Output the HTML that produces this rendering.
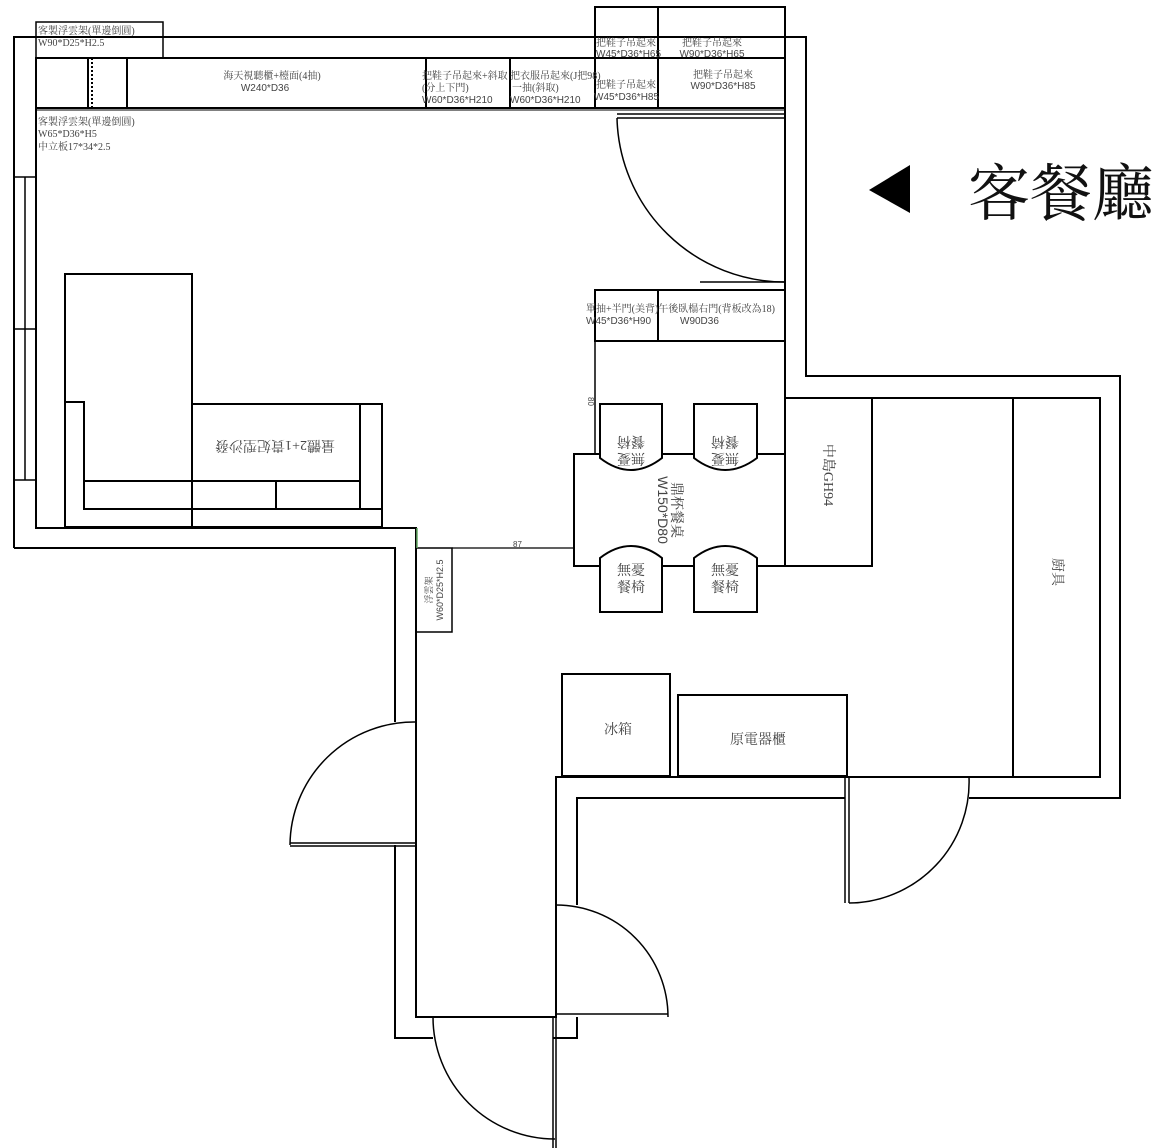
<!DOCTYPE html>
<html><head><meta charset="utf-8"><style>
html,body{margin:0;padding:0;background:#fff;}
svg{display:block;}
text{font-family:"Liberation Serif","Noto Serif CJK SC",serif;fill:#444;}
.s{font-family:"Liberation Sans","Noto Sans CJK SC",sans-serif;}
</style></head><body>
<svg width="1159" height="1148" viewBox="0 0 1159 1148" xmlns="http://www.w3.org/2000/svg">
<g fill="none" stroke="#000" stroke-width="2">
<polyline points="14,548 14,37 806,37 806,376 1120,376 1120,798 969,798"/>
<polyline points="845,798 577,798 577,905"/>
<polyline points="14,548 395,548 395,722"/>
<polyline points="395,845 395,1038 433,1038"/>
<polyline points="553,1038 577,1038 577,1017"/>
<polyline points="36,58 36,528 416,528 416,1017 556,1017 556,777 1100,777 1100,398 806,398"/>
<line x1="785" y1="108" x2="785" y2="398"/>
<line x1="25" y1="177" x2="25" y2="480" stroke-width="1.5"/>
<line x1="14" y1="177" x2="36" y2="177" stroke-width="1.5"/>
<line x1="14" y1="329" x2="36" y2="329" stroke-width="1.5"/>
<line x1="14" y1="480" x2="36" y2="480" stroke-width="1.5"/>
<rect x="36" y="58" width="749" height="50"/>
<line x1="36" y1="108" x2="785" y2="108" stroke-width="1"/>
<line x1="36" y1="110" x2="785" y2="110" stroke-width="1"/>
<line x1="88" y1="58" x2="88" y2="108"/>
<line x1="92" y1="58" x2="92" y2="108" stroke-dasharray="2,2"/>
<line x1="127" y1="58" x2="127" y2="108"/>
<line x1="426" y1="58" x2="426" y2="108"/>
<line x1="510" y1="58" x2="510" y2="108"/>
<line x1="595" y1="58" x2="595" y2="108"/>
<line x1="658" y1="58" x2="658" y2="108"/>
<rect x="36" y="22" width="127" height="36" stroke-width="1.5"/>
<rect x="595" y="7" width="190" height="51"/>
<line x1="658" y1="7" x2="658" y2="58"/>
<line x1="617" y1="114" x2="785" y2="114" stroke-width="1.5"/>
<line x1="617" y1="118" x2="785" y2="118" stroke-width="1.5"/>
<path d="M617,118 A168,168 0 0 0 785,282" stroke-width="1.5"/>
<line x1="700" y1="282" x2="785" y2="282" stroke-width="1.5"/>
<rect x="595" y="290" width="190" height="51"/>
<line x1="658" y1="290" x2="658" y2="341"/>
<line x1="595" y1="341" x2="595" y2="454" stroke-width="1.5"/>
<rect x="65" y="274" width="127" height="253"/>
<polyline points="65,402 84,402 84,509 382,509"/>
<line x1="84" y1="481" x2="360" y2="481"/>
<rect x="192" y="404" width="190" height="123"/>
<line x1="360" y1="404" x2="360" y2="509"/>
<line x1="276" y1="481" x2="276" y2="509"/>
<rect x="416" y="548" width="36" height="84" stroke-width="1.5"/>
<line x1="452" y1="548" x2="574" y2="548" stroke-width="1.2"/>
<line x1="417" y1="528" x2="417" y2="548" stroke="#6a6" stroke-width="1.5"/>
<rect x="574" y="454" width="211" height="112"/>
<rect x="785" y="398" width="87" height="168"/>
<rect x="1013" y="398" width="87" height="379"/>
<path d="M600,404 H662 V458 Q631,482 600,458 Z" fill="#fff"/>
<path d="M694,404 H757 V458 Q725,482 694,458 Z" fill="#fff"/>
<path d="M600,612 H662 V558 Q631,534 600,558 Z" fill="#fff"/>
<path d="M694,612 H757 V558 Q725,534 694,558 Z" fill="#fff"/>
<rect x="562" y="674" width="108" height="102"/>
<rect x="678" y="695" width="169" height="81"/>
<line x1="290" y1="843" x2="416" y2="843" stroke-width="1.5"/>
<line x1="290" y1="846" x2="416" y2="846" stroke-width="1.5"/>
<path d="M416,722 A124,124 0 0 0 290,845" stroke-width="1.5"/>
<line x1="556" y1="1014" x2="668" y2="1014" stroke-width="1.5"/>
<path d="M556,905 A112,112 0 0 1 668,1017" stroke-width="1.5"/>
<line x1="553" y1="1017" x2="553" y2="1148" stroke-width="1.5"/>
<line x1="556" y1="1017" x2="556" y2="1148" stroke-width="1.5"/>
<path d="M433,1017 A122,122 0 0 0 555,1139" stroke-width="1.5"/>
<line x1="845" y1="777" x2="845" y2="903" stroke-width="1.5"/>
<line x1="849" y1="777" x2="849" y2="903" stroke-width="1.5"/>
<path d="M969,777 A121,121 0 0 1 849,903" stroke-width="1.5"/>
</g>
<polygon points="869,190 910,165 910,213" fill="#000"/>
<text x="968" y="215" font-size="62" style="fill:#111;font-family:'Liberation Serif','Noto Serif CJK SC',serif">客餐廳</text>
<g font-size="10">
<text x="38" y="34">客製浮雲架(單邊倒圓)</text>
<text x="38" y="46">W90*D25*H2.5</text>
<text x="38" y="125">客製浮雲架(單邊倒圓)</text>
<text x="38" y="137">W65*D36*H5</text>
<text x="38" y="150">中立板17*34*2.5</text>
<text x="272" y="79" text-anchor="middle">海天視聽櫃+檯面(4抽)</text>
<text x="265" y="91" text-anchor="middle" class="s">W240*D36</text>
<text x="422" y="79">把鞋子吊起來+斜取</text>
<text x="422" y="91">(分上下門)</text>
<text x="422" y="103" class="s">W60*D36*H210</text>
<text x="510" y="79">把衣服吊起來(J把98)</text>
<text x="512" y="91">一抽(斜取)</text>
<text x="510" y="103" class="s">W60*D36*H210</text>
<text x="596" y="46">把鞋子吊起來</text>
<text x="596" y="57" class="s">W45*D36*H65</text>
<text x="712" y="46" text-anchor="middle">把鞋子吊起來</text>
<text x="712" y="57" text-anchor="middle" class="s">W90*D36*H65</text>
<text x="596" y="88">把鞋子吊起來</text>
<text x="594" y="100" class="s">W45*D36*H85</text>
<text x="723" y="78" text-anchor="middle">把鞋子吊起來</text>
<text x="723" y="89" text-anchor="middle" class="s">W90*D36*H85</text>
<text x="586" y="312">單抽+半門(美背)午後臥榻右門(背板改為18)</text>
<text x="586" y="324" class="s">W45*D36*H90</text>
<text x="680" y="324" class="s">W90D36</text>
<text x="513" y="547" class="s" font-size="8">87</text>
</g>
<text transform="translate(275,441) rotate(180)" font-size="14" text-anchor="middle">量體2+1貴妃型沙發</text>
<text transform="translate(588,397) rotate(90)" font-size="8" class="s">80</text>
<g font-size="14" text-anchor="middle">
<text transform="translate(631,437) rotate(180)">餐椅</text>
<text transform="translate(631,454) rotate(180)">無憂</text>
<text transform="translate(725,437) rotate(180)">餐椅</text>
<text transform="translate(725,454) rotate(180)">無憂</text>
<text x="631" y="575">無憂</text>
<text x="631" y="592">餐椅</text>
<text x="725" y="575">無憂</text>
<text x="725" y="592">餐椅</text>
<text x="618" y="734">冰箱</text>
<text x="758" y="744">原電器櫃</text>
</g>
<text transform="translate(672,510) rotate(90)" font-size="14" text-anchor="middle">鼎杯餐桌</text>
<text transform="translate(658,510) rotate(90)" font-size="14" text-anchor="middle" class="s">W150*D80</text>
<text transform="translate(824,475) rotate(90)" font-size="14" text-anchor="middle">中島GH94</text>
<text transform="translate(1053,572) rotate(90)" font-size="14" text-anchor="middle">廚具</text>
<g font-size="9">
<text transform="translate(432,590) rotate(-90)" text-anchor="middle">浮雲架</text>
<text transform="translate(443,590) rotate(-90)" text-anchor="middle" class="s">W60*D25*H2.5</text>
</g>
</svg>
</body></html>
